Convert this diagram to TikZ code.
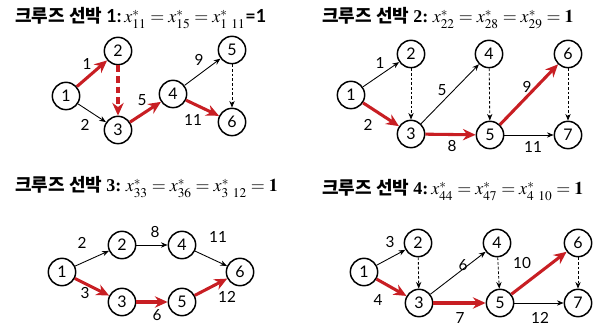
\documentclass[tikz,border=0pt]{standalone}
\usepackage{mathptmx}
\usepackage{fontspec}
\setmainfont{Liberation Serif}
\newfontfamily\kr{Noto Sans CJK KR}
\newfontfamily\gs{Lato}
\usetikzlibrary{arrows.meta}
\definecolor{cred}{RGB}{200,30,35}
\tikzset{
  nd/.style={circle,draw,line width=1.1pt,minimum size=20.5pt,inner sep=0pt,font=\gs\fontsize{12}{12}\selectfont},
  blk/.style={line width=0.65pt,-{Stealth[length=5pt,width=4pt]}},
  blkd/.style={blk,dash pattern=on 2pt off 1.5pt},
  rd/.style={cred,line width=2.3pt,-{Stealth[length=9.5pt,width=8.5pt]}},
  rdd/.style={rd,dash pattern=on 5pt off 3pt},
  lb/.style={font=\gs\fontsize{11.5}{11.5}\selectfont,inner sep=0pt},
  ttl/.style={anchor=west,inner sep=0pt,font=\fontsize{13.5}{16}\selectfont}
}
\begin{document}
\begin{tikzpicture}[x=0.75pt,y=-0.75pt]
\path[use as bounding box,fill=white] (0,0) rectangle (599,327);
% ---------- panel 1
\node[ttl] (t1) at (15,18) {{\kr\bfseries 크루즈 선박 }{\gs\bfseries 1:}\,$x^*_{11}=x^*_{15}=x^*_{1\ 11}${\gs\bfseries =1}};
\node[nd] (a1) at (66,96) {1};
\node[nd] (a2) at (118,51) {2};
\node[nd] (a3) at (118,130) {3};
\node[nd] (a4) at (173,94) {4};
\node[nd] (a5) at (232,50) {5};
\node[nd] (a6) at (232,122) {6};
\draw[rd] (a1) -- (a2);
\draw[blk] (a1) -- (a3);
\draw[rdd] (a2) -- (a3);
\draw[rd] (a3) -- (a4);
\draw[blk] (a4) -- (a5);
\draw[rd] (a4) -- (a6);
\draw[blkd] (a5) -- (a6);
\node[lb] (la1) at (87,64) {1};
\node[lb] (la2) at (85,125) {2};
\node[lb] (la3) at (142,100) {5};
\node[lb] (la4) at (199,60) {9};
\node[lb] (la5) at (193,120) {11};
% ---------- panel 2
\node[ttl] (t2) at (322,18) {{\kr\bfseries 크루즈 선박 }\textbf{2:}\ $x^*_{22}=x^*_{28}=x^*_{29}=\mathbf{1}$};
\node[nd] (b1) at (351,95) {1};
\node[nd] (b2) at (411,54) {2};
\node[nd] (b3) at (411,134) {3};
\node[nd] (b4) at (489,54) {4};
\node[nd] (b5) at (490,135) {5};
\node[nd] (b6) at (568,54) {6};
\node[nd] (b7) at (568,135) {7};
\draw[blk] (b1) -- (b2);
\draw[rd] (b1) -- (b3);
\draw[blkd] (b2) -- (b3);
\draw[blk] (b3) -- (b4);
\draw[rd] (b3) -- (b5);
\draw[blkd] (b4) -- (b5);
\draw[rd] (b5) -- (b6);
\draw[blk] (b5) -- (b7);
\draw[blkd] (b6) -- (b7);
\node[lb] (lb1) at (380,63) {1};
\node[lb] (lb2) at (368,125) {2};
\node[lb] (lb3) at (442,90) {5};
\node[lb] (lb4) at (452,146) {8};
\node[lb] (lb5) at (527,87) {9};
\node[lb] (lb6) at (533,147) {11};
% ---------- panel 3
\node[ttl] (t3) at (15,187) {{\kr\bfseries 크루즈 선박 }\textbf{3:}\ $x^*_{33}=x^*_{36}=x^*_{3\ 12}=\mathbf{1}$};
\node[nd] (c1) at (62,272) {1};
\node[nd] (c2) at (122,245) {2};
\node[nd] (c3) at (122,302) {3};
\node[nd] (c4) at (182,245) {4};
\node[nd] (c5) at (182,302) {5};
\node[nd] (c6) at (240,272) {6};
\draw[blk] (c1) -- (c2);
\draw[blk] (c2) -- (c4);
\draw[blk] (c4) -- (c6);
\draw[rd] (c1) -- (c3);
\draw[rd] (c3) -- (c5);
\draw[rd] (c5) -- (c6);
\node[lb] (lc1) at (82,243) {2};
\node[lb] (lc2) at (155,232) {8};
\node[lb] (lc3) at (218,237) {11};
\node[lb] (lc4) at (85,293) {3};
\node[lb] (lc5) at (157,315) {6};
\node[lb] (lc6) at (227,297) {12};
% ---------- panel 4
\node[ttl] (t4) at (322,190) {{\kr\bfseries 크루즈 선박 }\textbf{4:}\,$x^*_{44}=x^*_{47}=x^*_{4\ 10}=\mathbf{1}$};
\node[nd] (d1) at (364,272) {1};
\node[nd] (d2) at (418,243) {2};
\node[nd] (d3) at (419,303) {3};
\node[nd] (d4) at (497,243) {4};
\node[nd] (d5) at (500,303) {5};
\node[nd] (d6) at (578,243) {6};
\node[nd] (d7) at (578,303) {7};
\draw[blk] (d1) -- (d2);
\draw[rd] (d1) -- (d3);
\draw[blkd] (d2) -- (d3);
\draw[blk] (d3) -- (d4);
\draw[rd] (d3) -- (d5);
\draw[blkd] (d4) -- (d5);
\draw[rd] (d5) -- (d6);
\draw[blk] (d5) -- (d7);
\draw[blkd] (d6) -- (d7);
\node[lb] (ld1) at (390,242) {3};
\node[lb] (ld2) at (378,300) {4};
\node[lb] (ld3) at (463,265) {6};
\node[lb] (ld4) at (460,318) {7};
\node[lb] (ld5) at (522,263) {10};
\node[lb] (ld6) at (540,318) {12};
\end{tikzpicture}
\end{document}
